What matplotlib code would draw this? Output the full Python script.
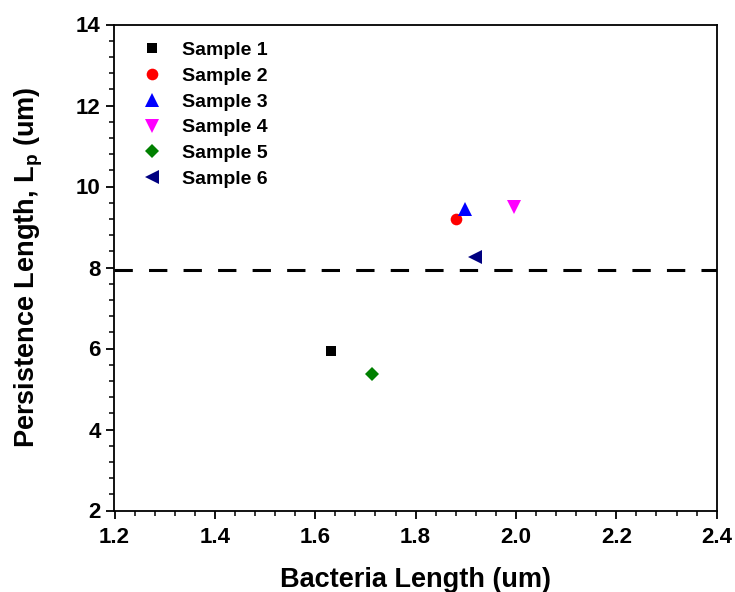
import matplotlib
matplotlib.use('Agg')
import matplotlib.pyplot as plt
from matplotlib.ticker import MultipleLocator

plt.rcParams['font.family'] = ['Liberation Sans', 'DejaVu Sans']
plt.rcParams['font.weight'] = 'bold'
plt.rcParams['mathtext.fontset'] = 'custom'
plt.rcParams['mathtext.rm'] = 'Liberation Sans:bold'
plt.rcParams['mathtext.bf'] = 'Liberation Sans:bold'
plt.rcParams['mathtext.default'] = 'bf'

# values
labels = ['Sample 1', 'Sample 2', 'Sample 3', 'Sample 4', 'Sample 5', 'Sample 6']
bacteria_len = [1.631, 1.880, 1.898, 1.996, 1.714, 1.918]
persist_len = [5.94, 9.20, 9.45, 9.50, 5.36, 8.25]
markers = ['s', 'o', '^', 'v', 'D', '<']
colors = ['#000000', '#FF0000', '#0000FF', '#FF00FF', '#008000', '#000080']
msizes = [7.2, 8.4, 9.4, 9.4, 7.2, 9.4]
threshold = 7.95

fig = plt.figure(figsize=(7.35, 5.92), dpi=100)
ax = fig.add_axes([114.5 / 735, 1 - 510.5 / 592, 602.2 / 735, 486 / 592])

for x, y, lab, m, c, s in zip(bacteria_len, persist_len, labels, markers, colors, msizes):
    ax.plot([x], [y], linestyle='none', marker=m, color=c, markersize=s,
            markeredgewidth=0, label=lab)

ax.axhline(threshold, color='black', lw=2.2, dashes=(6, 5.3))

ax.set_xlim(1.2, 2.4)
ax.set_ylim(2, 14)
ax.xaxis.set_major_locator(MultipleLocator(0.2))
ax.xaxis.set_minor_locator(MultipleLocator(0.04))
ax.yaxis.set_major_locator(MultipleLocator(2))
ax.yaxis.set_minor_locator(MultipleLocator(0.4))
ax.set_xticks([1.2, 1.4, 1.6, 1.8, 2.0, 2.2, 2.4])
ax.set_xticklabels(['1.2', '1.4', '1.6', '1.8', '2.0', '2.2', '2.4'])

for sp in ax.spines.values():
    sp.set_linewidth(1.3)
ax.tick_params(which='major', direction='out', length=6, width=1.3,
               labelsize=16, pad=4, top=False, right=False)
ax.tick_params(axis='x', which='major', pad=6)
ax.tick_params(which='minor', direction='out', length=3.5, width=1.1,
               top=False, right=False)

ax.set_xlabel('Bacteria Length (um)', fontsize=19.5, fontweight='bold')
ax.set_ylabel(r'Persistence Length, L$_{p}$ (um)', fontsize=19.5, fontweight='bold')
ax.xaxis.set_label_coords(0.5, -0.117)
ax.yaxis.set_label_coords(-0.116, 0.5)

ax.legend(loc='upper left', bbox_to_anchor=(0.046, 0.965), frameon=False,
          fontsize=14, handlelength=1.0, handletextpad=1.05, labelspacing=0.42,
          borderpad=0, borderaxespad=0, numpoints=1)

fig.savefig('out.png', dpi=100)
